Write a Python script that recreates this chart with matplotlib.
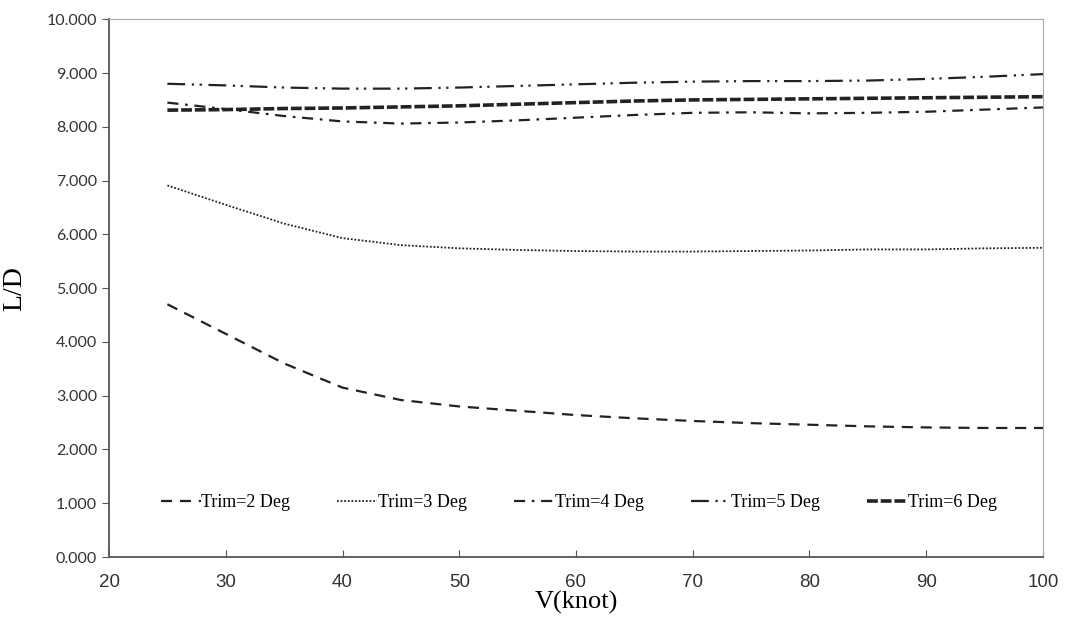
import numpy as np
import matplotlib.pyplot as plt

speed = [25, 30, 35, 40, 45, 50, 55, 60, 65, 70, 75, 80, 85, 90, 95, 100]

trim2 = [4.70, 4.15, 3.60, 3.15, 2.92, 2.80, 2.72, 2.64, 2.58, 2.53, 2.49, 2.46, 2.43, 2.41, 2.40, 2.40]
trim3 = [6.91, 6.55, 6.20, 5.93, 5.80, 5.74, 5.71, 5.69, 5.68, 5.68, 5.69, 5.70, 5.72, 5.72, 5.74, 5.75]
trim4 = [8.45, 8.33, 8.20, 8.10, 8.06, 8.08, 8.12, 8.17, 8.22, 8.26, 8.27, 8.25, 8.26, 8.28, 8.32, 8.36]
trim5 = [8.80, 8.77, 8.73, 8.71, 8.71, 8.73, 8.76, 8.79, 8.82, 8.84, 8.85, 8.85, 8.86, 8.89, 8.93, 8.98]
trim6 = [8.31, 8.32, 8.34, 8.35, 8.37, 8.39, 8.42, 8.45, 8.48, 8.50, 8.51, 8.52, 8.53, 8.54, 8.55, 8.56]

labels = ["Trim=2 Deg", "Trim=3 Deg", "Trim=4 Deg", "Trim=5 Deg", "Trim=6 Deg"]

serif = ["Liberation Serif", "DejaVu Serif"]

fig = plt.figure(figsize=(10.73, 6.21), dpi=100)
ax = fig.add_axes([0.1016, 0.103, 0.8704, 0.866])

c = "#222222"
ax.plot(speed, trim2, color=c, lw=1.6, dashes=(5, 3.5), label=labels[0])
ax.plot(speed, trim3, color=c, lw=1.3, dashes=(1, 1), label=labels[1])
ax.plot(speed, trim4, color=c, lw=1.6, dashes=(5, 3, 1.2, 3), label=labels[2])
ax.plot(speed, trim5, color=c, lw=1.6, dashes=(8, 3, 1, 2.5, 1, 3), label=labels[3])
ax.plot(speed, trim6, color=c, lw=2.6, dashes=(3, 0.8), label=labels[4])

ax.set_xlim(20, 100)
ax.set_ylim(0, 10)
ax.set_xticks(np.arange(20, 101, 10))
ax.set_yticks(np.arange(0, 10.1, 1))
ax.set_yticklabels([f"{v:.3f}" for v in np.arange(0, 10.1, 1)])

for s in ["top", "right"]:
    ax.spines[s].set_color("#aaaaaa")
for s in ["left", "bottom"]:
    ax.spines[s].set_color("#555555")
    ax.spines[s].set_linewidth(1.3)

ax.tick_params(axis="y", direction="out", length=5, color="#555555",
               labelsize=11.5, labelcolor="#333333")
ax.tick_params(axis="x", direction="in", length=5, color="#555555",
               labelsize=13.5, labelcolor="#333333", pad=12)
for t in ax.get_yticklabels():
    t.set_family(["Lato", "DejaVu Sans"])
for t in ax.get_xticklabels():
    t.set_family(["Liberation Sans", "DejaVu Sans"])

ax.set_xlabel("V(knot)", family=serif, fontsize=19, labelpad=0)
ax.set_ylabel("L/D", family=serif, fontsize=20, labelpad=14)

ax.legend(loc="lower center", bbox_to_anchor=(0.503, 0.055), ncol=5, frameon=False,
          prop={"family": serif, "size": 13}, handlelength=2.2, handletextpad=0.05,
          columnspacing=2.6)

fig.savefig("out.png", dpi=100)
